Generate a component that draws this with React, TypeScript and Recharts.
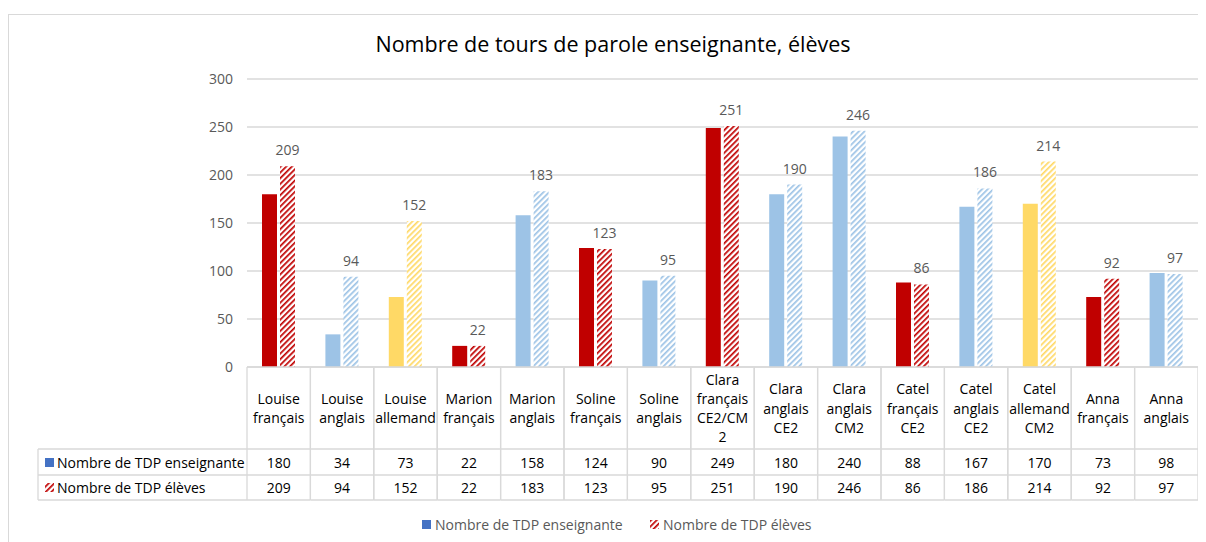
import React from "react";
import { BarChart, Bar, XAxis, YAxis, CartesianGrid, Cell, LabelList } from "recharts";

// catégories (une par séance)
const categories = [
  "Louise français", "Louise anglais", "Louise allemand", "Marion français", "Marion anglais",
  "Soline français", "Soline anglais", "Clara français CE2/CM2", "Clara anglais CE2", "Clara anglais CM2",
  "Catel français CE2", "Catel anglais CE2", "Catel allemand CM2", "Anna français", "Anna anglais",
];

// libellés du tableau (retours à la ligne comme dans Excel)
const tickLabels = [
  ["Louise", "français"], ["Louise", "anglais"], ["Louise", "allemand"], ["Marion", "français"],
  ["Marion", "anglais"], ["Soline", "français"], ["Soline", "anglais"], ["Clara", "français", "CE2/CM", "2"],
  ["Clara", "anglais", "CE2"], ["Clara", "anglais", "CM2"], ["Catel", "français", "CE2"],
  ["Catel", "anglais", "CE2"], ["Catel", "allemand", "CM2"], ["Anna", "français"], ["Anna", "anglais"],
];

const langues = [
  "français", "anglais", "allemand", "français", "anglais", "français", "anglais", "français",
  "anglais", "anglais", "français", "anglais", "allemand", "français", "anglais",
];

const enseignante = [180, 34, 73, 22, 158, 124, 90, 249, 180, 240, 88, 167, 170, 73, 98];
const eleves = [209, 94, 152, 22, 183, 123, 95, 251, 190, 246, 86, 186, 214, 92, 97];

const yTicks = [0, 50, 100, 150, 200, 250, 300];

const SERIE_ENS = "Nombre de TDP enseignante";
const SERIE_ELV = "Nombre de TDP élèves";
const TITRE = "Nombre de tours de parole enseignante, élèves";

const couleurs: Record<string, string> = {
  français: "#C00000",
  anglais: "#9DC3E6",
  allemand: "#FFD966",
};
const motifs: Record<string, string> = {
  français: "hatch-fr",
  anglais: "hatch-en",
  allemand: "hatch-de",
};

const data = categories.map((name, i) => ({
  name,
  enseignante: enseignante[i],
  eleves: eleves[i],
  langue: langues[i],
}));

const W = 1198;
const H = 534;
const GRID = "#d9d9d9";
const FONT = "'Open Sans', 'Noto Sans', sans-serif";

// hauteurs des lignes du tableau sous l'axe
const ROW_HEAD = 82;
const ROW1 = 108;
const ROW2 = 133;

const TableTick = (props: any) => {
  const { x, y, payload } = props;
  const i = categories.indexOf(payload.value);
  const half = payload.offset || 31.7;
  const lines = tickLabels[i] || [];
  const lh = 19.3;
  const y0 = y + ROW_HEAD / 2 - ((lines.length - 1) * lh) / 2;
  return (
    <g>
      <line x1={x - half} x2={x - half} y1={y} y2={y + ROW2} stroke={GRID} strokeWidth={1.3} />
      <line x1={x + half} x2={x + half} y1={y} y2={y + ROW2} stroke={GRID} strokeWidth={1.3} />
      <line x1={x - half} x2={x + half} y1={y + ROW_HEAD} y2={y + ROW_HEAD} stroke={GRID} strokeWidth={1.3} />
      <line x1={x - half} x2={x + half} y1={y + ROW1} y2={y + ROW1} stroke={GRID} strokeWidth={1.3} />
      <line x1={x - half} x2={x + half} y1={y + ROW2} y2={y + ROW2} stroke={GRID} strokeWidth={1.3} />
      {lines.map((l, k) => (
        <text key={k} x={x} y={y0 + k * lh} textAnchor="middle" dominantBaseline="central" fontSize={14} fill="#000">
          {l}
        </text>
      ))}
      <text x={x} y={y + 95} textAnchor="middle" dominantBaseline="central" fontSize={14} fill="#000">
        {enseignante[i]}
      </text>
      <text x={x} y={y + 120.5} textAnchor="middle" dominantBaseline="central" fontSize={14} fill="#000">
        {eleves[i]}
      </text>
    </g>
  );
};

const App: React.FC = () => {
  return (
    <div style={{ position: "relative", width: W, height: H, fontFamily: FONT, background: "#fff" }}>
      <div
        style={{
          position: "absolute",
          left: 0,
          top: 6,
          width: W,
          height: H - 6,
          borderTop: `1px solid ${GRID}`,
          borderLeft: `1px solid ${GRID}`,
          boxSizing: "border-box",
        }}
      />
      <div
        style={{
          position: "absolute",
          left: 0,
          top: 23,
          width: 1210,
          textAlign: "center",
          fontSize: 21.5,
          lineHeight: "26px",
          color: "#000",
        }}
      >
        {TITRE}
      </div>

      <svg width={0} height={0} style={{ position: "absolute" }}>
        <defs>
          {Object.keys(couleurs).map((lg) => (
            <pattern
              key={lg}
              id={motifs[lg]}
              patternUnits="userSpaceOnUse"
              width={4}
              height={4}
              patternTransform="rotate(45)"
            >
              <rect width={4} height={4} fill="#fff" />
              <rect width={1.7} height={4} fill={couleurs[lg]} />
            </pattern>
          ))}
        </defs>
      </svg>

      <div style={{ position: "absolute", left: 0, top: 0 }}>
        <BarChart
          width={W}
          height={H}
          data={data}
          margin={{ top: 71, right: 8, bottom: 42, left: 199 }}
          barSize={15}
          barGap={3}
        >
          <CartesianGrid vertical={false} stroke={GRID} strokeWidth={1.3} />
          <XAxis
            dataKey="name"
            interval={0}
            height={ROW2}
            tickLine={false}
            tickSize={0}
            tickMargin={0}
            axisLine={{ stroke: GRID, strokeWidth: 1.3 }}
            tick={TableTick}
          />
          <YAxis
            width={40}
            domain={[0, 300]}
            ticks={yTicks}
            interval={0}
            axisLine={false}
            tickLine={false}
            tickSize={0}
            tickMargin={14}
            tick={{ fontSize: 14, fill: "#595959" }}
          />
          <Bar dataKey="enseignante" name={SERIE_ENS} isAnimationActive={false}>
            {data.map((d, i) => (
              <Cell key={i} fill={couleurs[d.langue]} />
            ))}
          </Bar>
          <Bar dataKey="eleves" name={SERIE_ELV} isAnimationActive={false}>
            {data.map((d, i) => (
              <Cell key={i} fill={`url(#${motifs[d.langue]})`} />
            ))}
            <LabelList dataKey="eleves" position="top" offset={11} fontSize={14} fill="#595959" />
          </Bar>
        </BarChart>
      </div>

      <svg width={W} height={H} style={{ position: "absolute", left: 0, top: 0, pointerEvents: "none" }}>
        {/* colonne de légende du tableau */}
        <line x1={30} x2={239} y1={441} y2={441} stroke={GRID} strokeWidth={1.3} />
        <line x1={30} x2={239} y1={467} y2={467} stroke={GRID} strokeWidth={1.3} />
        <line x1={30} x2={239} y1={492} y2={492} stroke={GRID} strokeWidth={1.3} />
        <line x1={30} x2={30} y1={441} y2={492} stroke={GRID} strokeWidth={1.3} />
        <rect x={37} y={450} width={9} height={9} fill="#4472C4" />
        <text x={49} y={454} dominantBaseline="central" fontSize={14} fill="#000">
          {SERIE_ENS}
        </text>
        <rect x={37} y={475} width={9} height={9} fill="url(#hatch-fr)" />
        <text x={49} y={479.5} dominantBaseline="central" fontSize={14} fill="#000">
          {SERIE_ELV}
        </text>

        {/* légende du bas */}
        <rect x={414} y={512} width={9} height={9} fill="#4472C4" />
        <text x={427} y={516.5} dominantBaseline="central" fontSize={14} fill="#595959">
          {SERIE_ENS}
        </text>
        <rect x={642} y={512} width={9} height={9} fill="url(#hatch-fr)" />
        <text x={655} y={516.5} dominantBaseline="central" fontSize={14} fill="#595959">
          {SERIE_ELV}
        </text>
      </svg>
    </div>
  );
};

export default App;
